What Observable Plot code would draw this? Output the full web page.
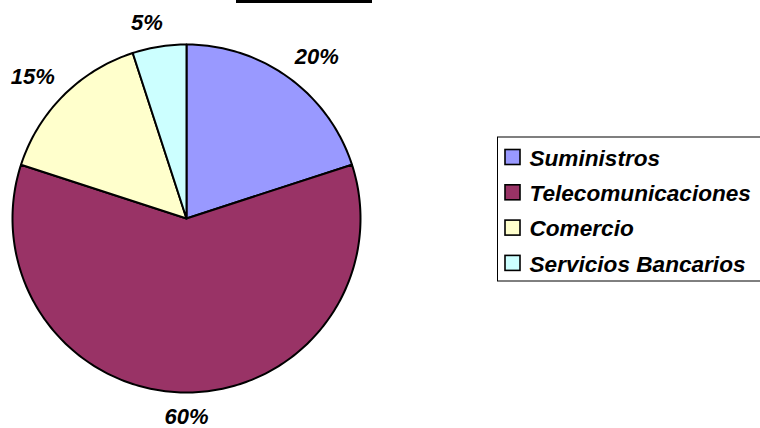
<!DOCTYPE html>
<html>
<head>
<meta charset="utf-8">
<script src="https://cdn.jsdelivr.net/npm/d3@7"></script>
<script src="https://cdn.jsdelivr.net/npm/@observablehq/plot@0.6"></script>
<style>
  html, body { margin: 0; padding: 0; background: #fff; }
  #chart { width: 760px; height: 428px; overflow: hidden; }
</style>
</head>
<body>
<div id="chart"></div>
<script>
// ---- data ----
const categories = ["Suministros", "Telecomunicaciones", "Comercio", "Servicios Bancarios"];
const values = [20, 60, 15, 5];
const labels = ["20%", "60%", "15%", "5%"];
const colors = ["#9999FF", "#993366", "#FFFFCC", "#CCFFFF"];

// ---- layout ----
const W = 760, H = 428;
const cx = 186, cy = 218, R = 174;
const labelFont = 22, legendFont = 22.6;
const font = "'Liberation Sans', Arial, sans-serif";

const total = d3.sum(values);
let acc = 0;
const slices = categories.map((c, i) => {
  const a0 = acc / total * 2 * Math.PI;
  acc += values[i];
  const a1 = acc / total * 2 * Math.PI;
  return {cat: c, value: values[i], label: labels[i], a0, a1};
});

// polygon points for each slice (center -> arc -> center)
const pts = [];
for (const s of slices) {
  pts.push({cat: s.cat, x: cx, y: cy});
  const n = Math.max(4, Math.ceil((s.a1 - s.a0) / (Math.PI / 180)));
  for (let k = 0; k <= n; k++) {
    const a = s.a0 + (s.a1 - s.a0) * k / n;
    pts.push({cat: s.cat, x: cx + R * Math.sin(a), y: cy - R * Math.cos(a)});
  }
  pts.push({cat: s.cat, x: cx, y: cy});
}

// label positions: anchor point just outside the rim, box pushed outward
const sgnPow = (v, p) => Math.sign(v) * Math.pow(Math.abs(v), p);
const labelPts = slices.map(s => {
  const m = (s.a0 + s.a1) / 2;
  const w = (s.label.length - 1) * 0.556 * labelFont + 0.889 * labelFont;
  const hw = w / 2, hh = 9;
  const d = R + 15;
  const px = cx + d * Math.sin(m), py = cy - d * Math.cos(m);
  return {label: s.label,
          x: px + hw * sgnPow(Math.sin(m), 0.25),
          y: py - hh * sgnPow(Math.cos(m), 0.25)};
});

// legend
const lgX1 = 497.5, lgX2 = 763, lgY1 = 137, lgY2 = 281;
const rowY0 = 157, rowStep = 35.3;
const legendRows = categories.map((c, i) => ({cat: c, y: rowY0 + i * rowStep}));

const chart = Plot.plot({
  width: W, height: H,
  margin: 0,
  x: {domain: [0, W], range: [0, W], axis: null},
  y: {domain: [0, H], range: [0, H], axis: null},
  color: {domain: categories, range: colors},
  style: {fontFamily: font, background: "white"},
  marks: [
    // thin black bar at the top
    Plot.rect([0], {x1: 236, x2: 372, y1: 0, y2: 3, fill: "black"}),
    // pie slices
    Plot.line(pts, {x: "x", y: "y", z: "cat", fill: "cat", stroke: "black", strokeWidth: 2, strokeLinejoin: "round", curve: "linear"}),
    // percent labels
    Plot.text(labelPts, {x: "x", y: "y", text: "label", fontSize: labelFont, fontWeight: "bold", fontStyle: "italic", fill: "black", textAnchor: "middle"}),
    // legend box
    Plot.rect([0], {x1: lgX1, x2: lgX2, y1: lgY1, y2: lgY2, fill: "white", stroke: "black", strokeWidth: 1}),
    // legend swatches
    Plot.rect(legendRows, {x1: 505, x2: 520, y1: d => d.y - 7.5, y2: d => d.y + 7.5, fill: "cat", stroke: "black", strokeWidth: 1.6}),
    // legend text
    Plot.text(legendRows, {x: 529, y: d => d.y + 1, text: "cat", textAnchor: "start", fontSize: legendFont, fontWeight: "bold", fontStyle: "italic", fill: "black"})
  ]
});
document.getElementById("chart").appendChild(chart);
</script>
</body>
</html>
